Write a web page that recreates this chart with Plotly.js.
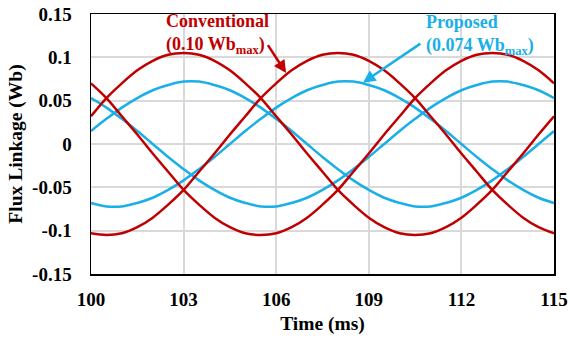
<!DOCTYPE html>
<html>
<head>
<meta charset="utf-8">
<script src="https://cdn.plot.ly/plotly-3.0.1.min.js"></script>
<style>html,body{margin:0;padding:0;background:#fff}#chart{width:570px;height:340px}</style>
</head>
<body>
<div id="chart"></div>
<script>
// Time axis (ms)
const time = [100,100.5,101,101.5,102,102.5,103,103.5,104,104.5,105,105.5,106,106.5,107,107.5,108,108.5,109,109.5,110,110.5,111,111.5,112,112.5,113,113.5,114,114.5,115];

// Conventional machine flux linkage, three phases (Wb)
const convA = [0.032,0.053,0.070,0.085,0.096,0.103,0.105,0.103,0.096,0.085,0.070,0.053,0.032,0.011,-0.011,-0.032,-0.053,-0.070,-0.085,-0.096,-0.103,-0.105,-0.103,-0.096,-0.085,-0.070,-0.053,-0.032,-0.011,0.011,0.032];
const convB = [-0.103,-0.105,-0.103,-0.096,-0.085,-0.070,-0.053,-0.032,-0.011,0.011,0.032,0.053,0.070,0.085,0.096,0.103,0.105,0.103,0.096,0.085,0.070,0.053,0.032,0.011,-0.011,-0.032,-0.053,-0.070,-0.085,-0.096,-0.103];
const convC = [0.070,0.053,0.032,0.011,-0.011,-0.032,-0.053,-0.070,-0.085,-0.096,-0.103,-0.105,-0.103,-0.096,-0.085,-0.070,-0.053,-0.032,-0.011,0.011,0.032,0.053,0.070,0.085,0.096,0.103,0.105,0.103,0.096,0.085,0.070];

// Proposed machine flux linkage, three phases (Wb)
const propA = [0.015,0.029,0.042,0.053,0.062,0.068,0.072,0.072,0.068,0.062,0.053,0.042,0.029,0.015,0,-0.015,-0.029,-0.042,-0.053,-0.062,-0.068,-0.072,-0.072,-0.068,-0.062,-0.053,-0.042,-0.029,-0.015,0,0.015];
const propB = [-0.068,-0.072,-0.072,-0.068,-0.062,-0.053,-0.042,-0.029,-0.015,0,0.015,0.029,0.042,0.053,0.062,0.068,0.072,0.072,0.068,0.062,0.053,0.042,0.029,0.015,0,-0.015,-0.029,-0.042,-0.053,-0.062,-0.068];
const propC = [0.053,0.042,0.029,0.015,0,-0.015,-0.029,-0.042,-0.053,-0.062,-0.068,-0.072,-0.072,-0.068,-0.062,-0.053,-0.042,-0.029,-0.015,0,0.015,0.029,0.042,0.053,0.062,0.068,0.072,0.072,0.068,0.062,0.053];

// Tick labels
const xTicks = [100,103,106,109,112,115];
const xTickText = ["100","103","106","109","112","115"];
const yTicks = [0.15,0.1,0.05,0,-0.05,-0.1,-0.15];
const yTickText = ["0.15","0.1","0.05","0","-0.05","-0.1","-0.15"];

// Annotation texts
const convLabel = "Conventional<br>(0.10 Wb<sub>max</sub>)";
const propLabel = "Proposed<br>(0.074 Wb<sub>max</sub>)";

const RED = "#C00000", BLUE = "#1AAFE6";
const FONT = "Liberation Serif";

function tr(y, color) {
  return {x: time, y: y, type: "scatter", mode: "lines",
    line: {color: color, width: 2.5, shape: "spline", smoothing: 1}, hoverinfo: "skip"};
}
const data = [tr(propA, BLUE), tr(propB, BLUE), tr(propC, BLUE), tr(convA, RED), tr(convB, RED), tr(convC, RED)];

const layout = {
  width: 570, height: 340,
  margin: {l: 91, r: 16, t: 14, b: 66},
  paper_bgcolor: "#fff", plot_bgcolor: "#fff",
  showlegend: false,
  font: {family: FONT, color: "#000", size: 19, weight: "bold"},
  xaxis: {
    range: [100, 115], tickvals: xTicks, ticktext: xTickText,
    showgrid: true, gridcolor: "#d9d9d9", gridwidth: 2,
    showline: true, linecolor: "#000", linewidth: 1.5, mirror: true,
    zeroline: false, ticks: "", ticklabelstandoff: 8,
    tickfont: {family: FONT, size: 19, weight: "bold", color: "#000"},
    title: {text: "Time (ms)", font: {family: FONT, size: 19.5, weight: "bold", color: "#000"}, standoff: 7}
  },
  yaxis: {
    range: [-0.15, 0.15], tickvals: yTicks, ticktext: yTickText,
    showgrid: true, gridcolor: "#d9d9d9", gridwidth: 2,
    showline: true, linecolor: "#000", linewidth: 1.5, mirror: true,
    zeroline: false, ticks: "", ticklabelstandoff: 14,
    tickfont: {family: FONT, size: 19, weight: "bold", color: "#000"},
    title: {text: "Flux Linkage (Wb)", font: {family: FONT, size: 19.5, weight: "bold", color: "#000"}, standoff: 4}
  },
  annotations: [
    {x: 102.36, y: 0.1274, xref: "x", yref: "y", text: convLabel, showarrow: false,
     xanchor: "left", yanchor: "middle", align: "left",
     font: {family: FONT, size: 18, weight: "bold", color: RED}},
    {x: 110.79, y: 0.1262, xref: "x", yref: "y", text: propLabel, showarrow: false,
     xanchor: "left", yanchor: "middle", align: "left",
     font: {family: FONT, size: 18, weight: "bold", color: BLUE}},
    {x: 106.32, y: 0.082, ax: 105.70, ay: 0.1158, xref: "x", yref: "y", axref: "x", ayref: "y",
     text: "", showarrow: true, arrowhead: 2, arrowsize: 1, arrowwidth: 2.5, arrowcolor: RED},
    {x: 108.81, y: 0.0708, ax: 110.72, ay: 0.117, xref: "x", yref: "y", axref: "x", ayref: "y",
     text: "", showarrow: true, arrowhead: 2, arrowsize: 1, arrowwidth: 2.5, arrowcolor: BLUE}
  ]
};

Plotly.newPlot("chart", data, layout, {displayModeBar: false, staticPlot: true});
</script>
</body>
</html>
